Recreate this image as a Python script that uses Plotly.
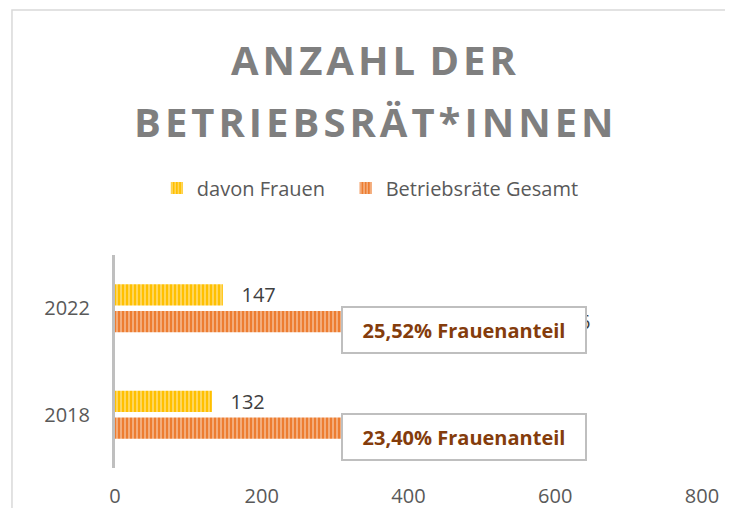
import plotly.graph_objects as go

# Data
jahre = ["2018", "2022"]
davon_frauen = [132, 147]
betriebsraete_gesamt = [564, 576]
x_ticks = [0, 200, 400, 600, 800]

anteil_text = [
    f"{f / g * 100:.2f}".replace(".", ",") + "% Frauenanteil"
    for f, g in zip(davon_frauen, betriebsraete_gesamt)
]

FONT = "Open Sans"
GREY_TXT = "#595959"
HS = "\u200a"  # hair space as letter spacing in the title
NB = "\u00a0"

fig = go.Figure()

# gesamt first so that it ends up below in each group (horizontal bars)
fig.add_trace(go.Bar(
    y=jahre, x=betriebsraete_gesamt, orientation="h",
    name="Betriebsräte Gesamt",
    marker=dict(color="#ED7D31", line_width=0,
                pattern=dict(shape="|", size=4, solidity=0.45,
                             fgcolor="#F4B183", bgcolor="#ED7D31", fillmode="replace")),
    texttemplate=NB * 3 + "%{x}", textposition="outside", constraintext="none",
    textfont=dict(family=FONT, size=20, color="#404040"),
    cliponaxis=False,
))
fig.add_trace(go.Bar(
    y=jahre, x=davon_frauen, orientation="h",
    name="davon Frauen" + NB * 3,
    marker=dict(color="#FFC000", line_width=0,
                pattern=dict(shape="|", size=4, solidity=0.45,
                             fgcolor="#FFD966", bgcolor="#FFC000", fillmode="replace")),
    texttemplate=NB * 3 + "%{x}", textposition="outside", constraintext="none",
    textfont=dict(family=FONT, size=20, color="#404040"),
    cliponaxis=False,
))

# share boxes over the end of the total bars (y = category index)
for i, txt in enumerate(anteil_text):
    fig.add_annotation(
        x=476, y=i, xref="x", yref="y", yshift=-22,
        text=f"<b>{txt}</b>", showarrow=False,
        font=dict(family=FONT, size=20, color="#843C0C"),
        bgcolor="white", bordercolor="#BFBFBF", borderwidth=2,
        width=240, height=42, borderpad=1,
    )

# two-line title, letter spaced
title_lines = [HS.join("ANZAHL") + " " + HS + HS.join("DER"),
               HS.join("BETRIEBSRÄT*INNEN")]
for line, ypos in zip(title_lines, [1.916, 1.625]):
    fig.add_annotation(
        x=0.441, y=ypos, xref="paper", yref="paper", showarrow=False,
        xanchor="center", yanchor="middle", text=f"<b>{line}</b>",
        font=dict(family=FONT, size=40, color="#7F7F7F"),
    )

# the page adds ~8px body margin, so the layout is shifted up/left by 8px
fig.update_layout(
    width=733, height=508,
    margin=dict(l=107, r=39, t=247, b=48, autoexpand=False),
    paper_bgcolor="white", plot_bgcolor="white",
    barmode="group", bargap=0.5, bargroupgap=0.2,
    legend=dict(orientation="h", x=0.435, xanchor="center", y=1.315, yanchor="middle",
                traceorder="reversed",
                font=dict(family=FONT, size=20, color=GREY_TXT)),
    xaxis=dict(range=[0, 800], tickvals=x_ticks, showgrid=False, zeroline=False,
               showline=False, ticks="", ticklabelstandoff=14, automargin=False,
               tickfont=dict(family=FONT, size=20, color=GREY_TXT)),
    yaxis=dict(type="category", categoryorder="array", categoryarray=jahre,
               range=[-0.5, 1.5], showline=True, linecolor="#BFBFBF", linewidth=3,
               showgrid=False, ticks="", ticklabelstandoff=18, automargin=False,
               tickfont=dict(family=FONT, size=20, color=GREY_TXT)),
    shapes=[dict(type="rect", xref="paper", yref="paper",
                 x0=-0.1755, x1=1.3, y0=-0.5, y1=2.15,
                 line=dict(color="#D9D9D9", width=1.5), layer="below")],
)

fig.write_html("out.html")
